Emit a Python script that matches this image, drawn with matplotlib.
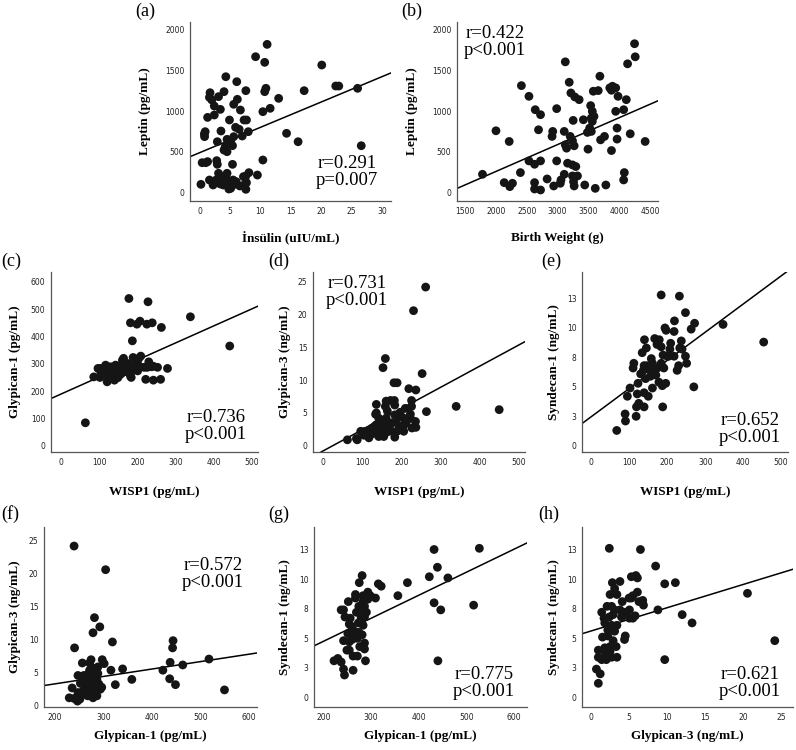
import matplotlib
matplotlib.use("Agg")
import matplotlib.pyplot as plt

W, H = 796, 750

# ---- data (approximate) ----
# (a) insulin vs leptin
a_x = [11.1, 9.2, 10.7, 4.3, 6.1, 1.7, 4.0, 7.6, 10.9, 10.7, 1.6, 3.1, 2.0, 6.2, 13.0,
       2.4, 5.6, 3.4, 6.7, 11.6, 10.4, 2.4, 1.3, 4.9, 7.3, 7.7, 5.9, 6.5, 3.5, 8.0,
       0.9, 0.8, 0.76, 14.3, 7.0, 5.6, 4.5, 2.9, 16.2, 5.1, 4.2, 5.4, 4.0, 4.5, 1.0,
       0.4, 1.3, 2.8, 2.9, 5.4, 10.4, 26.6, 26.0, 22.4, 22.9, 20.1, 17.2, 1.6, 0.2, 2.7,
       3.4, 2.2, 4.0, 4.5, 4.6, 5.0, 3.9, 4.8, 5.5, 6.0, 6.6, 7.2, 7.6, 8.1, 7.7,
       7.6, 7.3, 9.5, 3.2, 5.5, 3.1, 5.1]
a_y = [1816, 1665, 1596, 1420, 1359, 1224, 1237, 1249, 1278, 1237, 1167, 1176, 1135, 1143, 1155,
       1061, 1082, 1020, 1012, 1033, 992, 951, 922, 890, 890, 890, 800, 776, 755, 747,
       747, 686, 718, 727, 694, 686, 653, 624, 624, 637, 563, 576, 522, 502, 367,
       367, 380, 392, 347, 347, 400, 575, 1278, 1306, 1306, 1563, 1249, 155, 102, 155,
       106, 94, 196, 237, 155, 114, 94, 45, 155, 135, 82, 196, 204, 245, 122,
       41, 94, 216, 135, 94, 237, 53]

# (b) birth weight vs leptin
b_x = [4249, 4136, 4260, 3124, 2411, 3188, 2534, 2636, 2722, 2984, 1998, 2213, 1779, 2132, 2223,
       2266, 2395, 2534, 2625, 2722, 2689, 2625, 2625, 2722, 2829, 2920, 2909, 2984, 2936, 3107,
       3124, 3145, 3107, 3054, 3043, 3161, 3241, 3295, 3241, 3322, 3258, 3268, 3204, 3241, 3268,
       3215, 3279, 3349, 3252, 3418, 3440, 3493, 3483, 3520, 3536, 3563, 3547, 3590, 3547, 3563,
       3579, 3659, 3611, 3697, 3761, 3686, 3783, 3847, 3890, 3943, 3874, 3874, 3943, 3981, 3965,
       3965, 4072, 4115, 4179, 4083, 4072, 4421]
b_y = [1824, 1578, 1664, 1602, 1311, 1352, 1180, 1016, 955, 1029, 758, 627, 225, 123, 74,
       115, 246, 389, 348, 389, 770, 123, 45, 33, 168, 750, 689, 389, 82, 750,
       586, 545, 225, 156, 115, 361, 340, 320, 205, 205, 135, 82, 689, 635, 574,
       1221, 1172, 1139, 885, 893, 94, 533, 738, 791, 1066, 996, 914, 934, 750, 873,
       1242, 1250, 53, 647, 689, 1426, 94, 1283, 1303, 1283, 1254, 516, 996, 1180, 791,
       656, 1016, 1139, 721, 246, 156, 627]

# (c) WISP1 vs glypican-1
c_x = [64, 178, 228, 182, 199, 207, 225, 239, 263, 339, 442, 187, 209, 164, 189,
       230, 97, 117, 130, 143, 158, 175, 191, 207, 218, 226, 242, 253, 279, 86,
       105, 118, 130, 143, 155, 165, 178, 191, 201, 126, 137, 149, 184, 112, 121,
       182, 222, 242, 261, 159, 166, 143, 102, 104, 140, 154, 200, 161, 204, 237,
       108, 178, 130]
c_y = [84, 539, 527, 450, 445, 456, 445, 450, 433, 472, 365, 384, 328, 320, 323,
       307, 283, 295, 289, 295, 295, 301, 295, 289, 287, 287, 291, 287, 283, 252,
       265, 265, 271, 274, 265, 271, 267, 277, 274, 246, 252, 249, 250, 259, 234,
       255, 243, 240, 243, 265, 283, 259, 250, 283, 240, 259, 304, 313, 320, 289,
       277, 283, 259]

# (d) WISP1 vs glypican-3
d_x = [262, 231, 159, 153, 253, 181, 189, 219, 237, 340, 450, 264, 136, 161, 172,
       182, 159, 183, 210, 226, 226, 136, 164, 197, 223, 236, 237, 223, 206, 189,
       183, 176, 193, 206, 212, 169, 156, 147, 136, 125, 117, 107, 96, 113, 125,
       138, 151, 164, 176, 189, 155, 142, 117, 104, 183, 85, 62, 87, 132, 142,
       149, 161, 206, 214, 227, 134]
d_y = [24.2, 20.6, 13.3, 11.9, 11.0, 9.6, 9.6, 8.7, 8.5, 6.0, 5.5, 5.2, 6.3, 6.8, 6.9,
       6.9, 6.0, 6.2, 5.7, 6.9, 6.0, 5.0, 5.3, 5.1, 4.8, 3.7, 2.8, 4.2, 4.2, 4.2,
       4.7, 3.5, 3.1, 3.1, 3.5, 3.0, 3.2, 2.8, 3.2, 2.7, 2.4, 2.2, 2.2, 1.9, 1.8,
       1.9, 2.2, 2.1, 2.2, 2.2, 1.4, 1.4, 1.2, 1.6, 1.3, 1.1, 0.9, 0.9, 3.0, 4.2,
       3.7, 4.2, 2.2, 3.9, 2.7, 4.8]

# (e) WISP1 vs syndecan-1
e_x = [184, 232, 248, 219, 272, 263, 347, 454, 194, 197, 218, 140, 167, 179, 173,
       184, 209, 237, 145, 134, 207, 233, 239, 189, 200, 218, 248, 112, 110, 139,
       158, 161, 174, 191, 184, 137, 130, 143, 156, 178, 196, 226, 230, 251, 102,
       123, 161, 187, 270, 95, 121, 139, 150, 125, 139, 119, 188, 89, 118, 90,
       67, 147, 170, 204, 156]
e_y = [12.8, 12.7, 11.3, 10.6, 10.4, 9.9, 10.3, 8.8, 10.0, 9.8, 9.7, 9.0, 9.1, 9.0, 8.6,
       8.4, 8.7, 8.9, 8.3, 7.9, 8.2, 8.3, 8.2, 7.7, 7.6, 7.6, 7.6, 7.0, 6.6, 6.8,
       7.4, 7.0, 6.6, 6.6, 7.0, 6.4, 6.1, 5.7, 5.9, 5.4, 5.3, 6.4, 6.8, 7.0, 4.9,
       5.3, 4.9, 5.1, 5.0, 4.2, 4.4, 4.5, 4.2, 3.6, 3.3, 3.3, 3.3, 2.7, 2.5, 2.1,
       1.3, 6.8, 6.0, 7.6, 6.4]

# (f) glypican-1 vs glypican-3
f_x = [443, 442, 437, 422, 436, 448, 463, 517, 549, 339, 358, 315, 324, 239, 304,
       281, 292, 278, 318, 240, 256, 274, 297, 301, 288, 271, 247, 271, 279, 288,
       273, 259, 252, 267, 281, 286, 293, 283, 273, 265, 235, 258, 247, 229, 239,
       251, 246, 267, 278, 286, 276, 262, 269, 281, 278, 290, 259, 296]
f_y = [9.8, 8.7, 6.5, 5.3, 4.0, 3.1, 6.1, 7.0, 2.3, 5.5, 3.9, 5.3, 3.1, 24.2, 20.6,
       13.3, 11.9, 11.0, 9.6, 8.7, 6.4, 6.9, 6.9, 6.3, 5.8, 6.4, 4.5, 5.3, 5.6, 4.8,
       4.5, 3.8, 3.3, 3.5, 3.8, 3.9, 2.4, 2.3, 2.4, 2.7, 2.6, 2.2, 1.9, 1.1, 1.0,
       0.9, 0.6, 1.4, 1.1, 1.4, 1.9, 1.7, 4.8, 4.5, 3.2, 3.2, 4.5, 2.7]

# (g) glypican-1 vs syndecan-1
g_x = [432, 527, 439, 422, 461, 376, 356, 315, 321, 281, 275, 432, 446, 515, 440,
       267, 267, 283, 293, 298, 309, 283, 293, 252, 242, 237, 274, 286, 269, 276,
       290, 245, 256, 279, 286, 273, 283, 254, 259, 265, 274, 251, 267, 281, 242,
       254, 260, 271, 276, 286, 286, 249, 254, 262, 271, 222, 230, 237, 288, 242,
       262, 244]
g_y = [12.5, 12.6, 11.0, 10.2, 10.1, 9.7, 8.6, 9.6, 9.4, 10.3, 9.7, 8.0, 7.4, 7.8, 3.1,
       8.7, 8.4, 8.6, 8.9, 8.6, 8.4, 8.1, 8.3, 8.1, 7.4, 7.4, 7.7, 7.7, 7.2, 7.1,
       7.2, 6.8, 6.7, 6.7, 6.8, 6.3, 6.1, 6.2, 6.0, 5.6, 5.5, 5.4, 5.3, 5.3, 4.8,
       4.7, 4.9, 5.0, 4.3, 4.6, 4.1, 4.0, 4.0, 3.5, 3.5, 3.1, 3.3, 3.0, 3.1, 2.4,
       2.3, 1.9]

# (h) glypican-3 vs syndecan-1
h_x = [2.4, 6.5, 8.5, 5.3, 5.9, 6.1, 2.8, 3.8, 9.7, 11.1, 3.1, 2.5, 3.4, 4.1, 5.0,
       5.3, 5.5, 6.1, 6.3, 6.8, 6.9, 20.6, 24.2, 8.8, 12.0, 13.3, 9.7, 1.4, 2.1, 2.7,
       3.1, 3.8, 2.9, 1.7, 2.4, 4.0, 4.4, 5.05, 5.5, 5.8, 5.05, 1.8, 2.7, 3.4, 2.2,
       3.1, 1.5, 2.2, 2.9, 4.5, 4.4, 2.5, 0.95, 1.8, 2.5, 0.95, 1.4, 2.0, 2.7, 3.4,
       0.7, 1.2, 0.95, 1.9, 3.3]
h_y = [12.6, 12.5, 11.1, 10.2, 10.3, 10.1, 9.7, 9.8, 9.6, 9.7, 9.2, 8.7, 8.7, 8.1, 8.4,
       8.4, 8.6, 8.9, 8.1, 8.2, 7.8, 8.8, 4.8, 7.4, 7.0, 6.3, 3.2, 7.2, 7.7, 7.7,
       7.4, 7.4, 7.0, 6.7, 6.8, 6.8, 7.2, 7.4, 6.7, 6.9, 6.7, 6.3, 6.1, 6.1, 5.7,
       5.6, 5.1, 5.2, 4.8, 5.2, 4.9, 4.3, 4.0, 4.2, 3.9, 3.4, 3.2, 3.2, 3.4, 3.4,
       2.4, 2.0, 1.2, 3.7, 4.3]

# fit lines: (intercept, slope)
fits = {"a": (490, 31.0), "b": (-397, 0.3288), "c": (189, 0.624), "d": (-0.79, 0.0323),
        "e": (2.47, 0.0239), "f": (0.97, 0.01129), "g": (0.86, 0.01945), "h": (5.62, 0.196)}
stats = {"a": "r=0.291\np=0.007", "b": "r=0.422\np<0.001", "c": "r=0.736\np<0.001",
         "d": "r=0.731\np<0.001", "e": "r=0.652\np<0.001", "f": "r=0.572\np<0.001",
         "g": "r=0.775\np<0.001", "h": "r=0.621\np<0.001"}

syn_ticks = [0, 2.5, 5, 7.5, 10, 12.5]
syn_labels = ["0", "3", "5", "8", "10", "13"]
wisp_ticks = [0, 100, 200, 300, 400, 500]
gly1_ticks = [200, 300, 400, 500, 600]
gly3_ticks = [0, 5, 10, 15, 20, 25]
leptin_ticks = [0, 500, 1000, 1500, 2000]

serif = ["Liberation Serif", "DejaVu Serif"]

# panel: key, x, y, (left, right, top, bottom) px, xlim, ylim, xticks, yticks, yticklabels,
#        xlabel, ylabel, ylabel x px, xlabel y px, stats center px, letter center px
panels = [
    ("a", a_x, a_y, (190, 391, 22, 201), (-1.6, 31.5), (-102, 2090), [0, 5, 10, 15, 20, 25, 30],
     leptin_ticks, None, "İnsülin (uIU/mL)", "Leptin (pg/mL)", 145, 238, (347, 172), (145, 11)),
    ("b", b_x, b_y, (457, 658, 22, 201), (1365, 4630), (-102, 2090), [1500, 2000, 2500, 3000, 3500, 4000, 4500],
     leptin_ticks, None, "Birth Weight (g)", "Leptin (pg/mL)", 412, 238, (495, 42), (412, 11)),
    ("c", c_x, c_y, (51, 258, 272, 452), (-26, 516), (-23, 636), wisp_ticks,
     [0, 100, 200, 300, 400, 500, 600], None, "WISP1 (pg/mL)", "Glypican-1 (pg/mL)", 15, 492, (216, 426), (11, 261)),
    ("d", d_x, d_y, (313, 525, 272, 452), (-26, 516), (-0.96, 26.5), wisp_ticks,
     gly3_ticks, None, "WISP1 (pg/mL)", "Glypican-3 (ng/mL)", 285, 492, (357, 292), (279, 261)),
    ("e", e_x, e_y, (582, 788, 272, 452), (-24.5, 518), (-0.53, 14.75), wisp_ticks,
     syn_ticks, syn_labels, "WISP1 (pg/mL)", "Syndecan-1 (ng/mL)", 554, 492, (750, 429), (551, 261)),
    ("f", f_x, f_y, (44, 257, 527, 707), (177, 616), (-0.3, 27.1), gly1_ticks,
     gly3_ticks, None, "Glypican-1 (pg/mL)", "Glypican-3 (ng/mL)", 15, 736, (213, 574), (10, 514)),
    ("g", g_x, g_y, (314, 527, 527, 707), (180, 627), (-0.8, 14.4), gly1_ticks,
     syn_ticks, syn_labels, "Glypican-1 (pg/mL)", "Syndecan-1 (ng/mL)", 285, 736, (484, 683), (279, 514)),
    ("h", h_x, h_y, (582, 793, 527, 707), (-1.2, 26.6), (-0.8, 14.4), gly3_ticks,
     syn_ticks, syn_labels, "Glypican-3 (ng/mL)", "Syndecan-1 (ng/mL)", 554, 736, (750, 683), (549, 514)),
]

fig = plt.figure(figsize=(W / 100, H / 100), dpi=100)

for (key, xs, ys, box, xlim, ylim, xt, yt, ytl, xlab, ylab, ylx, xly, spos, lpos) in panels:
    l, r, t, b = box
    ax = fig.add_axes([l / W, 1 - b / H, (r - l) / W, (b - t) / H])
    ax.scatter(xs, ys, s=40, color="#151515", edgecolors="none", zorder=3)
    b0, m = fits[key]
    ax.axline((0, b0), slope=m, color="black", lw=1.1, zorder=2)
    ax.set_xlim(*xlim)
    ax.set_ylim(*ylim)
    ax.set_xticks(xt)
    ax.set_yticks(yt)
    if ytl is not None:
        ax.set_yticklabels(ytl)
    ax.tick_params(length=0, labelsize=5.5, pad=4, colors="#222222")
    for s in ("top", "right"):
        ax.spines[s].set_visible(False)
    for s in ("left", "bottom"):
        ax.spines[s].set_color("#555555")
        ax.spines[s].set_linewidth(0.9)
    ax.set_xlabel(xlab, family=serif, fontweight="bold", fontsize=9.5, va="center")
    ax.set_ylabel(ylab, family=serif, fontweight="bold", fontsize=9.5, va="center")
    ax.xaxis.set_label_coords(0.5, -(xly - b) / (b - t))
    ax.yaxis.set_label_coords((ylx - l) / (r - l), 0.5)
    fig.text(spos[0] / W, 1 - spos[1] / H, stats[key], family=serif, fontsize=13.5,
             ha="center", va="center", multialignment="center", linespacing=1.05)
    fig.text(lpos[0] / W, 1 - lpos[1] / H, "(%s)" % key, family=serif, fontsize=13,
             ha="center", va="center")

fig.savefig("out.png", dpi=100)
